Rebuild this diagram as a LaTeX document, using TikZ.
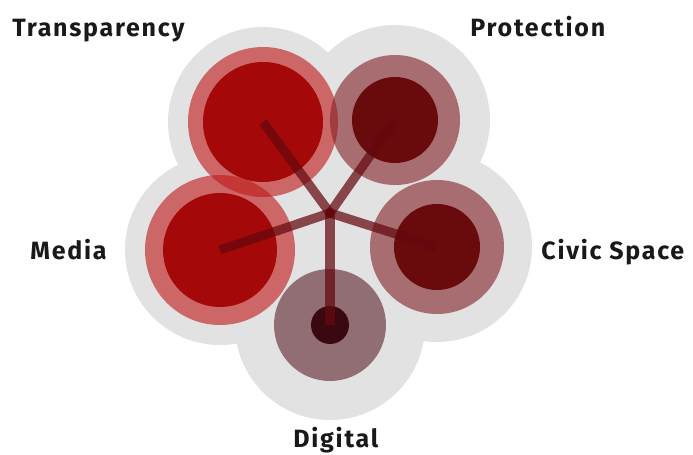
\documentclass[tikz,border=0pt]{standalone}
\usepackage{fontspec}
\setmainfont{Fira Sans}
\usepackage{xcolor}
\usepackage{tikz}
\usetikzlibrary{positioning,calc}

\definecolor{halo}{RGB}{226,226,226}
\definecolor{redin}{RGB}{165,8,8}
\definecolor{redout}{RGB}{192,22,22}
\definecolor{wineins}{RGB}{105,10,12}
\definecolor{wineout}{RGB}{130,32,36}
\definecolor{plumin}{RGB}{58,8,16}
\definecolor{plumout}{RGB}{92,34,44}
\definecolor{spoke}{RGB}{100,8,14}

\tikzset{
    label/.style={font=\fontsize{12.5}{14}\selectfont\bfseries\addfontfeatures{LetterSpace=7}, text=black!90, inner sep=0pt},
    ring/.style={fill=#1, fill opacity=0.6},
    core/.style={fill=#1},
    arm/.style={draw=spoke, draw opacity=0.72, line width=4.6pt}
}

\begin{document}
\begin{tikzpicture}[x=0.5pt, y=-0.5pt]
    \useasboundingbox (0,0) rectangle (693,455);

    % centres
    \coordinate (hub) at (330,213);
    \coordinate (trans) at (263,122);
    \coordinate (prot) at (395,120);
    \coordinate (civic) at (437,247);
    \coordinate (media) at (220,250);
    \coordinate (digi) at (330,325);

    % grey halos
    \foreach \c in {trans,prot,civic,media,digi}
        \fill[halo] (\c) circle (95);
    \fill[halo] (hub) circle (60);

    % Transparency
    \fill[ring=redout] (trans) circle (75);
    \fill[core=redin] (trans) circle (60);

    % Protection
    \fill[ring=wineout] (prot) circle (65);
    \fill[core=wineins] (prot) circle (43);

    % Civic Space
    \fill[ring=wineout] (civic) circle (67);
    \fill[core=wineins] (civic) circle (43);

    % Media
    \fill[ring=redout] (media) circle (75);
    \fill[core=redin] (media) circle (57);

    % Digital
    \fill[ring=plumout] (digi) circle (56);
    \fill[core=plumin] (digi) circle (19);

    % spokes
    \foreach \c in {trans,prot,civic,media,digi}
        \draw[arm] (hub) -- (\c);
    \fill[spoke] (hub) circle (5);

    % labels
    \node[label, anchor=base west] (ltrans) at (12,37) {Transparency};
    \node[label, anchor=base west] (lprot) at (470,37) {Protection};
    \node[label, anchor=base west] (lmedia) at (30,259) {Media};
    \node[label, anchor=base west] (lcivic) at (541,259) {Civic Space};
    \node[label, anchor=base west] (ldigi) at (293,447) {Digital};
\end{tikzpicture}
\end{document}
